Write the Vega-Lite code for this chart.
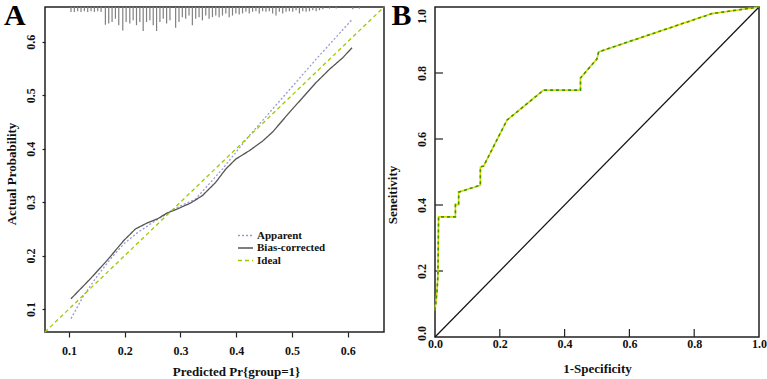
{
  "$schema": "https://vega.github.io/schema/vega-lite/v6.json",
  "padding": {"left": 3, "top": 0, "right": 2, "bottom": 0},
  "spacing": 51,
  "bounds": "flush",
  "config": {
    "view": {"stroke": "#222", "strokeWidth": 1.5},
    "font": "Liberation Serif",
    "axis": {"grid": false, "domain": false, "labelFont": "Liberation Serif", "labelFontWeight": "bold", "labelFontSize": 12, "labelColor": "#111", "titleFont": "Liberation Serif", "titleFontWeight": "bold", "titleFontSize": 13, "titleColor": "#111", "tickColor": "#222", "tickWidth": 1.2, "labelFlush": false},
    "legend": {"labelFont": "Liberation Serif", "labelFontWeight": "bold", "labelFontSize": 11, "labelColor": "#111"}
  },
  "datasets": {
    "rug": [
      {"p": 0.1036, "b": 0.6557}, {"p": 0.1096, "b": 0.6557}, {"p": 0.1156, "b": 0.657}, {"p": 0.1216, "b": 0.6557}, {"p": 0.1276, "b": 0.657}, {"p": 0.1336, "b": 0.6557}, {"p": 0.1396, "b": 0.657}, {"p": 0.1456, "b": 0.6557}, {"p": 0.1516, "b": 0.657}, {"p": 0.1576, "b": 0.6557},
      {"p": 0.1653, "b": 0.632}, {"p": 0.1713, "b": 0.634}, {"p": 0.1773, "b": 0.637}, {"p": 0.1833, "b": 0.643}, {"p": 0.1893, "b": 0.631}, {"p": 0.1965, "b": 0.621}, {"p": 0.2025, "b": 0.637}, {"p": 0.2091, "b": 0.634}, {"p": 0.2151, "b": 0.640}, {"p": 0.2211, "b": 0.631},
      {"p": 0.2271, "b": 0.637}, {"p": 0.2331, "b": 0.620}, {"p": 0.2391, "b": 0.637}, {"p": 0.2451, "b": 0.640}, {"p": 0.2511, "b": 0.631}, {"p": 0.2571, "b": 0.620}, {"p": 0.2631, "b": 0.637}, {"p": 0.2691, "b": 0.643}, {"p": 0.2751, "b": 0.634}, {"p": 0.2811, "b": 0.640},
      {"p": 0.2913, "b": 0.626}, {"p": 0.2973, "b": 0.637}, {"p": 0.3033, "b": 0.646}, {"p": 0.3093, "b": 0.643}, {"p": 0.3153, "b": 0.649}, {"p": 0.3213, "b": 0.631}, {"p": 0.3273, "b": 0.643}, {"p": 0.3333, "b": 0.646}, {"p": 0.3393, "b": 0.640}, {"p": 0.3453, "b": 0.649},
      {"p": 0.3513, "b": 0.643}, {"p": 0.3573, "b": 0.646}, {"p": 0.3633, "b": 0.649}, {"p": 0.3693, "b": 0.646}, {"p": 0.3753, "b": 0.649}, {"p": 0.3813, "b": 0.653}, {"p": 0.3873, "b": 0.646}, {"p": 0.3933, "b": 0.649}, {"p": 0.3993, "b": 0.653}, {"p": 0.4053, "b": 0.651},
      {"p": 0.4113, "b": 0.653}, {"p": 0.4173, "b": 0.656}, {"p": 0.4233, "b": 0.653}, {"p": 0.4293, "b": 0.656}, {"p": 0.4353, "b": 0.657}, {"p": 0.4413, "b": 0.653}, {"p": 0.4473, "b": 0.657}, {"p": 0.4533, "b": 0.656}, {"p": 0.4593, "b": 0.657}, {"p": 0.4653, "b": 0.653},
      {"p": 0.4713, "b": 0.649}, {"p": 0.4773, "b": 0.656}, {"p": 0.4833, "b": 0.653}, {"p": 0.4893, "b": 0.656}, {"p": 0.4953, "b": 0.657}, {"p": 0.5013, "b": 0.656}, {"p": 0.5073, "b": 0.659}, {"p": 0.5133, "b": 0.653}, {"p": 0.5193, "b": 0.657}, {"p": 0.5253, "b": 0.656},
      {"p": 0.5313, "b": 0.657}, {"p": 0.5373, "b": 0.659}, {"p": 0.5433, "b": 0.657}, {"p": 0.5493, "b": 0.659}, {"p": 0.5553, "b": 0.661}, {"p": 0.5673, "b": 0.662}, {"p": 0.5793, "b": 0.662}, {"p": 0.6091, "b": 0.661}, {"p": 0.6210, "b": 0.662}
    ],
    "calib": [
      {"series": "Apparent", "x": 0.1036, "y": 0.0819}, {"series": "Apparent", "x": 0.1264, "y": 0.1256}, {"series": "Apparent", "x": 0.1504, "y": 0.1610}, {"series": "Apparent", "x": 0.1743, "y": 0.1938}, {"series": "Apparent", "x": 0.1984, "y": 0.2218}, {"series": "Apparent", "x": 0.2223, "y": 0.2424}, {"series": "Apparent", "x": 0.2462, "y": 0.2592}, {"series": "Apparent", "x": 0.2703, "y": 0.2748}, {"series": "Apparent", "x": 0.2883, "y": 0.2871}, {"series": "Apparent", "x": 0.3272, "y": 0.3058}, {"series": "Apparent", "x": 0.3752, "y": 0.3618}, {"series": "Apparent", "x": 0.4232, "y": 0.4241}, {"series": "Apparent", "x": 0.4831, "y": 0.4955}, {"series": "Apparent", "x": 0.5430, "y": 0.5670}, {"series": "Apparent", "x": 0.6077, "y": 0.6416},
      {"series": "Bias-corrected", "x": 0.1036, "y": 0.1192}, {"series": "Bias-corrected", "x": 0.1383, "y": 0.1565}, {"series": "Bias-corrected", "x": 0.1683, "y": 0.1909}, {"series": "Bias-corrected", "x": 0.1984, "y": 0.2282}, {"series": "Bias-corrected", "x": 0.2192, "y": 0.2498}, {"series": "Bias-corrected", "x": 0.2403, "y": 0.2610}, {"series": "Bias-corrected", "x": 0.2583, "y": 0.2685}, {"series": "Bias-corrected", "x": 0.2763, "y": 0.2797}, {"series": "Bias-corrected", "x": 0.2942, "y": 0.2871}, {"series": "Bias-corrected", "x": 0.3182, "y": 0.2983}, {"series": "Bias-corrected", "x": 0.3392, "y": 0.3121}, {"series": "Bias-corrected", "x": 0.3631, "y": 0.3369}, {"series": "Bias-corrected", "x": 0.3811, "y": 0.3618}, {"series": "Bias-corrected", "x": 0.3991, "y": 0.3804}, {"series": "Bias-corrected", "x": 0.4232, "y": 0.3960}, {"series": "Bias-corrected", "x": 0.4471, "y": 0.4140}, {"series": "Bias-corrected", "x": 0.4651, "y": 0.4310}, {"series": "Bias-corrected", "x": 0.4951, "y": 0.4675}, {"series": "Bias-corrected", "x": 0.5191, "y": 0.4955}, {"series": "Bias-corrected", "x": 0.5430, "y": 0.5235}, {"series": "Bias-corrected", "x": 0.5671, "y": 0.5483}, {"series": "Bias-corrected", "x": 0.5910, "y": 0.5701}, {"series": "Bias-corrected", "x": 0.6077, "y": 0.5888},
      {"series": "Ideal", "x": 0.057, "y": 0.057}, {"series": "Ideal", "x": 0.665, "y": 0.665}
    ],
    "roc": [
      {"o": 1, "fpr": 0.0, "tpr": 0.081}, {"o": 2, "fpr": 0.006, "tpr": 0.136}, {"o": 3, "fpr": 0.009, "tpr": 0.187}, {"o": 4, "fpr": 0.011, "tpr": 0.364}, {"o": 5, "fpr": 0.063, "tpr": 0.364}, {"o": 6, "fpr": 0.063, "tpr": 0.401}, {"o": 7, "fpr": 0.073, "tpr": 0.401}, {"o": 8, "fpr": 0.073, "tpr": 0.439}, {"o": 9, "fpr": 0.140, "tpr": 0.460}, {"o": 10, "fpr": 0.140, "tpr": 0.515}, {"o": 11, "fpr": 0.150, "tpr": 0.518}, {"o": 12, "fpr": 0.222, "tpr": 0.657}, {"o": 13, "fpr": 0.335, "tpr": 0.748}, {"o": 14, "fpr": 0.449, "tpr": 0.748}, {"o": 15, "fpr": 0.449, "tpr": 0.785}, {"o": 16, "fpr": 0.500, "tpr": 0.843}, {"o": 17, "fpr": 0.505, "tpr": 0.864}, {"o": 18, "fpr": 0.855, "tpr": 0.980}, {"o": 19, "fpr": 1.0, "tpr": 1.0}
    ],
    "diag": [{"fpr": 0, "tpr": 0}, {"fpr": 1, "tpr": 1}],
    "ticks": [{"t": 0.2}, {"t": 0.4}, {"t": 0.6}, {"t": 0.8}]
  },
  "hconcat": [
    {
      "width": 339,
      "height": 325,
      "title": {"text": "A", "anchor": "start", "frame": "group", "orient": "top", "offset": 0, "dx": -41, "dy": 27, "baseline": "top", "fontSize": 30, "font": "Liberation Serif", "fontWeight": "bold", "color": "#000"},
      "layer": [
        {
          "data": {"name": "rug"},
          "mark": {"type": "rule", "color": "#808080", "strokeWidth": 1.2},
          "encoding": {
            "x": {"field": "p", "type": "quantitative", "scale": {"domain": [0.057, 0.665], "nice": false, "zero": false},
                  "axis": {"values": [0.1, 0.2, 0.3, 0.4, 0.5, 0.6], "format": ".1f", "tickSize": 5, "labelPadding": 8, "title": "Predicted Pr{group=1}", "titleX": 191, "titlePadding": 9}},
            "y": {"field": "b", "type": "quantitative", "scale": {"domain": [0.057, 0.665], "nice": false, "zero": false},
                  "axis": {"values": [0.1, 0.2, 0.3, 0.4, 0.5, 0.6], "format": ".1f", "labelAngle": -90, "tickSize": 3, "labelPadding": 5, "title": "Actual Probability", "titleY": 166.5, "titlePadding": 6}},
            "y2": {"datum": 0.665}
          }
        },
        {
          "data": {"name": "calib"},
          "mark": {"type": "line", "strokeWidth": 1.3},
          "encoding": {
            "x": {"field": "x", "type": "quantitative"},
            "y": {"field": "y", "type": "quantitative"},
            "color": {"field": "series", "type": "nominal", "scale": {"domain": ["Apparent", "Bias-corrected", "Ideal"], "range": ["#9a9ad8", "#555555", "#99cc00"]},
                      "legend": {"title": null, "orient": "none", "legendX": 192, "legendY": 222.5, "symbolType": "stroke", "symbolSize": 225, "symbolStrokeWidth": 1.5, "labelOffset": 3, "clipHeight": 12, "rowPadding": 0.5}},
            "strokeDash": {"field": "series", "type": "nominal", "scale": {"domain": ["Apparent", "Bias-corrected", "Ideal"], "range": [[2, 2], [1, 0], [4, 3]]}, "legend": {"title": null, "orient": "none", "legendX": 192, "legendY": 222.5, "symbolType": "stroke", "symbolSize": 225, "symbolStrokeWidth": 1.5, "labelOffset": 3, "clipHeight": 12, "rowPadding": 0.5}}
          }
        }
      ]
    },
    {
      "width": 324,
      "height": 330,
      "title": {"text": "B", "anchor": "start", "frame": "group", "orient": "top", "offset": 0, "dx": -43.5, "dy": 27, "baseline": "top", "fontSize": 30, "font": "Liberation Serif", "fontWeight": "bold", "color": "#000"},
      "layer": [
        {
          "data": {"name": "diag"},
          "mark": {"type": "line", "color": "#111", "strokeWidth": 1.2},
          "encoding": {
            "x": {"field": "fpr", "type": "quantitative", "scale": {"domain": [0, 1], "nice": false},
                  "axis": {"values": [0, 0.2, 0.4, 0.6, 0.8, 1], "format": ".1f", "tickSize": 0, "labelPadding": 1, "labelFlush": false, "title": "1-Specificity", "titlePadding": 13}},
            "y": {"field": "tpr", "type": "quantitative", "scale": {"domain": [0, 1], "nice": false},
                  "axis": {"values": [0, 0.2, 0.4, 0.6, 0.8, 1], "format": ".1f", "labelAngle": -90, "tickSize": 0, "labelPadding": 7, "labelFlush": false,
                           "labelOffset": {"condition": [{"test": "datum.value === 1", "value": 9}, {"test": "datum.value === 0", "value": -4}], "value": 0},
                           "title": "Seneitivity", "titleY": 187.5, "titlePadding": 16}}
          }
        },
        {
          "data": {"name": "ticks"},
          "mark": {"type": "rule", "color": "#222", "strokeWidth": 1.2},
          "encoding": {
            "x": {"field": "t", "type": "quantitative"},
            "y": {"datum": 0},
            "y2": {"datum": 0.0242}
          }
        },
        {
          "data": {"name": "ticks"},
          "mark": {"type": "rule", "color": "#222", "strokeWidth": 1.2},
          "encoding": {
            "y": {"field": "t", "type": "quantitative"},
            "x": {"datum": 0},
            "x2": {"datum": 0.0247}
          }
        },
        {
          "data": {"name": "roc"},
          "mark": {"type": "line", "color": "#d8d800", "strokeWidth": 1.6},
          "encoding": {
            "x": {"field": "fpr", "type": "quantitative"},
            "y": {"field": "tpr", "type": "quantitative"},
            "order": {"field": "o", "type": "quantitative"}
          }
        },
        {
          "data": {"name": "roc"},
          "mark": {"type": "line", "color": "#3a9a00", "strokeWidth": 1.6, "strokeDash": [3, 3]},
          "encoding": {
            "x": {"field": "fpr", "type": "quantitative"},
            "y": {"field": "tpr", "type": "quantitative"},
            "order": {"field": "o", "type": "quantitative"}
          }
        }
      ]
    }
  ]
}
